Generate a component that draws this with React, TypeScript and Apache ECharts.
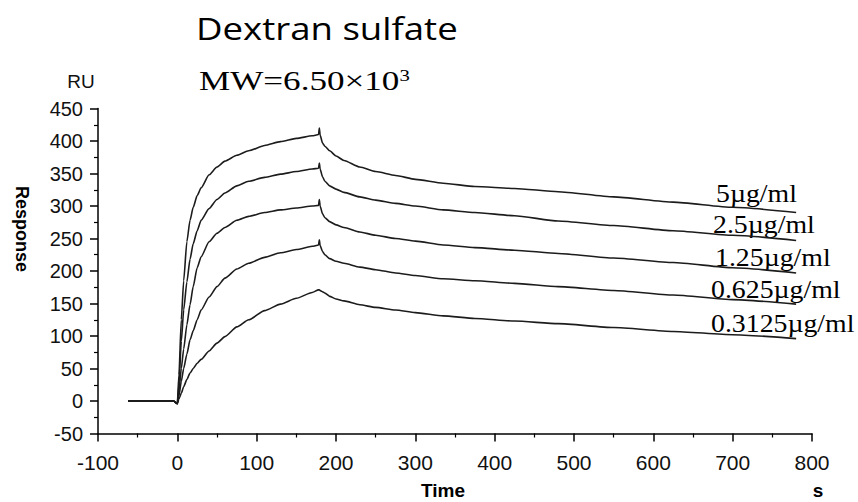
import React, { useEffect, useRef } from "react";
import * as echarts from "echarts";

// Sensorgram time points (s), shared by every concentration
const times = [
  -62, -40, -20, -5, 0, 2, 5, 8, 12, 16, 20, 25, 30, 40, 50, 60, 75, 90, 110, 130,
  150, 170, 178, 179, 180, 183, 186, 192, 200, 210, 230, 250, 275, 300, 335, 375,
  425, 480, 550, 625, 700, 780,
];

const concLabels = ["5µg/ml", "2.5µg/ml", "1.25µg/ml", "0.625µg/ml", "0.3125µg/ml"];

// Response (RU) for each concentration
const resp5 = [
  0, 0, 0, 0, -4, 40, 125, 185, 245, 278, 298, 316, 328, 348, 360, 369, 378, 385, 393, 399,
  404, 408, 410, 420, 409, 397, 392, 385, 377, 370, 360, 353, 347, 341, 335, 330,
  327, 322, 314, 306, 298, 290,
];
const resp2_5 = [
  0, 0, 0, 0, -4, 25, 92, 140, 183, 218, 242, 262, 278, 296, 310, 320, 331, 338, 344, 349,
  353, 357, 358, 366, 357, 345, 338, 331, 326, 321, 314, 309, 304, 300, 294, 290,
  285, 277, 270, 262, 255, 247,
];
const resp1_25 = [
  0, 0, 0, 0, -4, 15, 50, 80, 117, 148, 176, 205, 222, 245, 258, 267, 278, 284, 290, 294,
  297, 300, 301, 310, 300, 288, 282, 276, 271, 267, 260, 255, 250, 246, 240, 236,
  232, 227, 220, 213, 205, 197,
];
const resp0_625 = [
  0, 0, 0, 0, -4, 8, 30, 50, 72, 94, 108, 125, 140, 160, 176, 189, 203, 212, 221, 228,
  233, 238, 240, 248, 239, 230, 225, 219, 215, 212, 206, 202, 197, 193, 188, 185,
  181, 176, 170, 163, 156, 149,
];
const resp0_3125 = [
  0, 0, 0, 0, -4, 3, 12, 22, 33, 43, 50, 58, 64, 77, 89, 99, 114, 125, 139, 149,
  158, 167, 171, 171, 170, 168, 166, 161, 157, 154, 148, 144, 140, 136, 131, 127,
  123, 119, 113, 107, 102, 96,
];

const allResp = [resp5, resp2_5, resp1_25, resp0_625, resp0_3125];

const SANS = "'Liberation Sans', Arial, sans-serif";
const SERIF = "'Liberation Serif', 'Times New Roman', serif";
const INK = "#111";

export default function App() {
  const ref = useRef<HTMLDivElement>(null);

  useEffect(() => {
    document.body.style.margin = "0";
    if (!ref.current) return;
    const chart = echarts.init(ref.current, undefined, { renderer: "svg" });

    const series = allResp.map((vals, k) => ({
      name: concLabels[k],
      type: "line",
      data: times.map((t, i) => [t, vals[i]]),
      showSymbol: false,
      smooth: 0.2,
      smoothMonotone: "x",
      lineStyle: { color: "#1c1c1c", width: 1.6 },
      z: 3,
    }));

    // Concentration labels sit just above the tail of each curve
    const labelPos = [
      [716, 193],
      [713, 224],
      [715, 257],
      [711, 289],
      [711, 323],
    ];

    const axisCommon = {
      axisTick: { show: true, inside: false, length: 8, lineStyle: { color: "#000", width: 1.5 } },
      minorTick: { show: true, splitNumber: 2, length: 4, lineStyle: { color: "#000", width: 1.2 } },
      splitLine: { show: false },
    };

    chart.setOption({
      animation: false,
      backgroundColor: "#fff",
      grid: { left: 98, right: 46, top: 108.5, bottom: 68.5, containLabel: false },
      xAxis: {
        type: "value",
        min: -100,
        max: 800,
        interval: 100,
        axisLine: { show: true, onZero: false, lineStyle: { color: "#000", width: 1.5 } },
        ...axisCommon,
        axisLabel: { fontFamily: SANS, fontSize: 21, color: INK, margin: 18 },
      },
      yAxis: {
        type: "value",
        min: -50,
        max: 450,
        interval: 50,
        axisLine: { show: true, onZero: false, lineStyle: { color: "#000", width: 1.5 } },
        ...axisCommon,
        axisLabel: { fontFamily: SANS, fontSize: 20, color: INK, margin: 15 },
      },
      series,
      graphic: [
        {
          type: "text",
          x: 196,
          y: 28,
          scaleX: 1.18,
          style: {
            text: "Dextran sulfate",
            font: "31px 'Open Sans', Lato, sans-serif",
            fill: "#000",
            textAlign: "left",
            textVerticalAlign: "middle",
          },
        },
        {
          type: "text",
          x: 199,
          y: 81,
          scaleX: 1.3,
          style: {
            text: "{m|MW=6.50×10}{s|3}",
            textAlign: "left",
            textVerticalAlign: "middle",
            rich: {
              m: { fontFamily: SERIF, fontSize: 27, fill: "#000" },
              s: { fontFamily: SERIF, fontSize: 16, fill: "#000", verticalAlign: "top", padding: [0, 0, 12, 0] },
            },
          },
        },
        {
          type: "text",
          x: 81,
          y: 81,
          style: { text: "RU", font: `19px ${SANS}`, fill: INK, textAlign: "center", textVerticalAlign: "middle" },
        },
        {
          type: "text",
          x: 22,
          y: 229,
          rotation: -Math.PI / 2,
          style: {
            text: "Response",
            font: `bold 18px ${SANS}`,
            fill: "#000",
            textAlign: "center",
            textVerticalAlign: "middle",
          },
        },
        {
          type: "text",
          x: 443,
          y: 490,
          style: { text: "Time", font: `bold 19px ${SANS}`, fill: "#000", textAlign: "center", textVerticalAlign: "middle" },
        },
        {
          type: "text",
          x: 818,
          y: 490,
          style: { text: "s", font: `bold 19px ${SANS}`, fill: "#000", textAlign: "center", textVerticalAlign: "middle" },
        },
        ...concLabels.map((lab, k) => ({
          type: "text",
          x: labelPos[k][0],
          y: labelPos[k][1],
          scaleX: 1.07,
          style: {
            text: lab,
            font: `26px ${SERIF}`,
            fill: "#000",
            textAlign: "left",
            textVerticalAlign: "middle",
          },
        })),
      ],
    });

    return () => chart.dispose();
  }, []);

  return <div ref={ref} style={{ width: 858, height: 502 }} />;
}
